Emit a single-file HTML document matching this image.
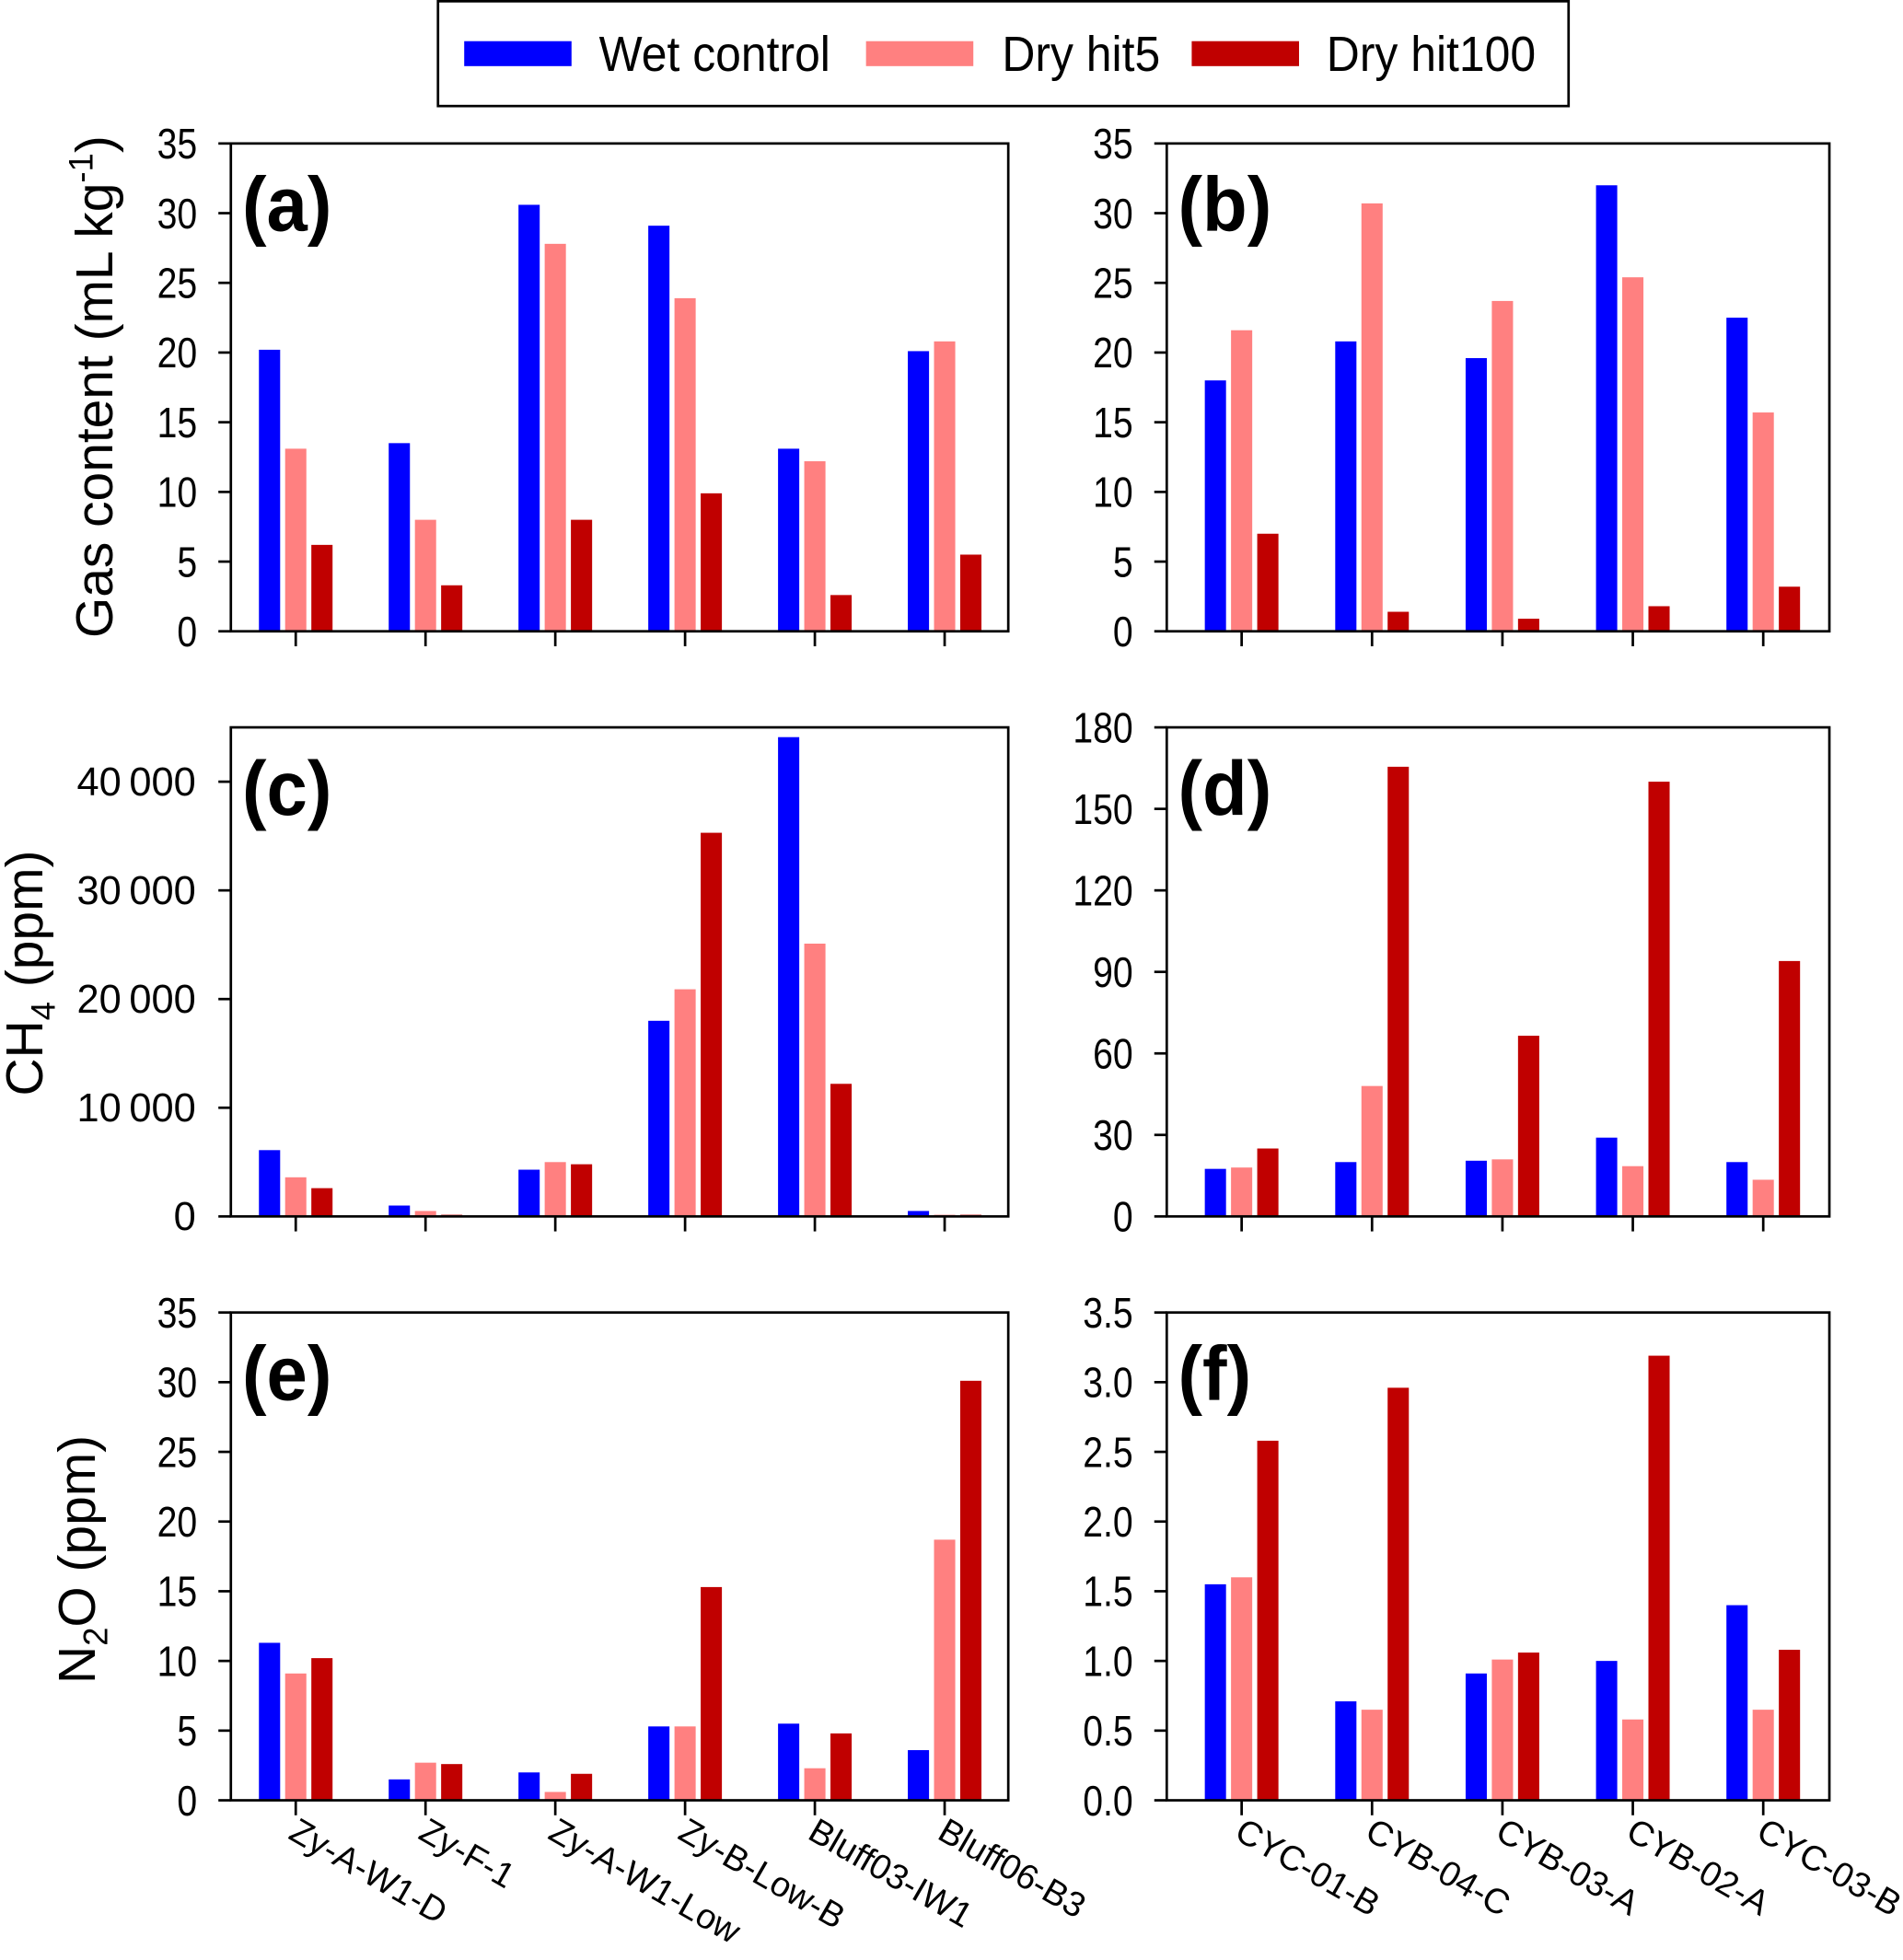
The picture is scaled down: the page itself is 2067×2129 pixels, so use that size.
<!DOCTYPE html>
<html><head><meta charset="utf-8">
<style>
html,body{margin:0;padding:0;background:#fff;}
svg{display:block;}
text{fill:#000;}
</style></head>
<body>
<svg id="chart" width="2067" height="2129" viewBox="0 0 1525 1571" preserveAspectRatio="none" xmlns="http://www.w3.org/2000/svg">
  <g>
    <rect x="351" y="1" width="906" height="84" fill="#fff" stroke="#000" stroke-width="2"/>
    <rect x="372" y="33" width="86" height="20" fill="#0000ff"/>
    <text transform="translate(480,57) scale(0.92,1)" font-family="Liberation Sans, sans-serif" font-size="40">Wet control</text>
    <rect x="694" y="33" width="86" height="20" fill="#ff8080"/>
    <text transform="translate(803,57) scale(0.92,1)" font-family="Liberation Sans, sans-serif" font-size="40">Dry hit5</text>
    <rect x="955" y="33" width="86" height="20" fill="#c00000"/>
    <text transform="translate(1063,57) scale(0.92,1)" font-family="Liberation Sans, sans-serif" font-size="40">Dry hit100</text>
  </g>
  <text transform="translate(90,310) rotate(-90)" text-anchor="middle" font-family="Liberation Sans, sans-serif" font-size="42">Gas content (mL kg<tspan dy="-16" font-size="27">-1</tspan><tspan dy="16">)</tspan></text>
  <text transform="translate(34,780) rotate(-90)" text-anchor="middle" font-family="Liberation Sans, sans-serif" font-size="42">CH<tspan dy="10" font-size="27">4</tspan><tspan dy="-10"> (ppm)</tspan></text>
  <text transform="translate(76,1250) rotate(-90)" text-anchor="middle" font-family="Liberation Sans, sans-serif" font-size="42">N<tspan dy="10" font-size="27">2</tspan><tspan dy="-10">O (ppm)</tspan></text>
</svg>
<script>
// Categories
const leftCats = ["Zy-A-W1-D","Zy-F-1","Zy-A-W1-Low","Zy-B-Low-B","Bluff03-IW1","Bluff06-B3"];
const rightCats = ["CYC-01-B","CYB-04-C","CYB-03-A","CYB-02-A","CYC-03-B"];
// Panel (a) gas content
const aWet = [20.2,13.5,30.6,29.1,13.1,20.1];
const aHit5 = [13.1,8.0,27.8,23.9,12.2,20.8];
const aHit100 = [6.2,3.3,8.0,9.9,2.6,5.5];
// Panel (b) gas content
const bWet = [18.0,20.8,19.6,32.0,22.5];
const bHit5 = [21.6,30.7,23.7,25.4,15.7];
const bHit100 = [7.0,1.4,0.9,1.8,3.2];
// Panel (c) CH4
const cWet = [6100,1000,4300,18000,44100,500];
const cHit5 = [3600,500,5000,20900,25100,150];
const cHit100 = [2600,150,4800,35300,12200,150];
// Panel (d) CH4
const dWet = [17.5,20,20.5,29,20];
const dHit5 = [18,48,21,18.5,13.5];
const dHit100 = [25,165.5,66.5,160,94];
// Panel (e) N2O
const eWet = [11.3,1.5,2.0,5.3,5.5,3.6];
const eHit5 = [9.1,2.7,0.6,5.3,2.3,18.7];
const eHit100 = [10.2,2.6,1.9,15.3,4.8,30.1];
// Panel (f) N2O
const fWet = [1.55,0.71,0.91,1.0,1.4];
const fHit5 = [1.6,0.65,1.01,0.58,0.65];
const fHit100 = [2.58,2.96,1.06,3.19,1.08];
// Tick labels
const ticksGas = ["0","5","10","15","20","25","30","35"];
const ticksGasVals = [0,5,10,15,20,25,30,35];
const ticksCH4L = ["0","10\u2009000","20\u2009000","30\u2009000","40\u2009000"];
const ticksCH4LVals = [0,10000,20000,30000,40000];
const ticksCH4R = ["0","30","60","90","120","150","180"];
const ticksCH4RVals = [0,30,60,90,120,150,180];
const ticksN2OL = ["0","5","10","15","20","25","30","35"];
const ticksN2OLVals = [0,5,10,15,20,25,30,35];
const ticksN2OR = ["0.0","0.5","1.0","1.5","2.0","2.5","3.0","3.5"];
const ticksN2ORVals = [0,0.5,1,1.5,2,2.5,3,3.5];

const NS = "http://www.w3.org/2000/svg";
const svg = document.getElementById('chart');
const colors = ["#0000ff","#ff8080","#c00000"];
const seriesNames = ["wet-control","dry-hit5","dry-hit100"];
function mk(tag, attrs, parent){
  const e = document.createElementNS(NS, tag);
  for (const k in attrs) e.setAttribute(k, attrs[k]);
  (parent||svg).appendChild(e);
  return e;
}
function panel(id, x0, x1, y0, y1, ymax, cats, series, tVals, tLabels, narrow, firstTick, step, showX){
  const g = mk('g', {});
  
  
  const ys = v => y1 - v / ymax * (y1 - y0);
  const xs = i => firstTick + i * step;
  series.forEach((arr, s) => {
    arr.forEach((v, i) => {
      const cx = xs(i) + (s - 1) * 21;
      const r = mk('rect', {x: cx - 8.5, y: ys(v), width: 17, height: Math.max(0, y1 - ys(v)), fill: colors[s]}, g);
      
      
    });
  });
  const f = mk('rect', {x: x0, y: y0, width: x1 - x0, height: y1 - y0, fill: 'none', stroke: '#000', 'stroke-width': 2}, g);
  
  
  tVals.forEach((v, k) => {
    mk('line', {x1: x0 - 10, x2: x0, y1: ys(v), y2: ys(v), stroke: '#000', 'stroke-width': 2}, g);
    const tr = narrow
      ? 'translate(' + (x0 - 27) + ',' + (ys(v) + 12) + ') scale(0.85,1)'
      : 'translate(' + (x0 - 28) + ',' + (ys(v) + 11) + ')';
    const t = mk('text', {transform: tr, 'text-anchor': 'end', 'font-family': 'Liberation Sans, sans-serif', 'font-size': narrow ? 34 : 32}, g);
    t.textContent = tLabels[k];
    
    
  });
  cats.forEach((c, i) => {
    mk('line', {x1: xs(i), x2: xs(i), y1: y1, y2: y1 + 12, stroke: '#000', 'stroke-width': 2}, g);
    if (showX) {
      const t = mk('text', {transform: 'translate(' + (xs(i) - 7) + ',' + (y1 + 30) + ') rotate(30)', 'font-family': 'Liberation Sans, sans-serif', 'font-size': 28}, g);
      t.textContent = c;
      
      
    }
  });
  const lab = mk('text', {transform: 'translate(' + (x0 + 9) + ',' + (y0 + 70) + ') scale(1.05,1.1)', 'font-family': 'Liberation Sans, sans-serif', 'font-weight': 'bold', 'font-size': 56}, g);
  lab.textContent = '(' + id + ')';
  
  
}
panel('a', 185, 808, 115, 506, 35, leftCats, [aWet,aHit5,aHit100], ticksGasVals, ticksGas, true, 237, 104, false);
panel('b', 935, 1466, 115, 506, 35, rightCats, [bWet,bHit5,bHit100], ticksGasVals, ticksGas, true, 995, 104.5, false);
panel('c', 185, 808, 583, 975, 45000, leftCats, [cWet,cHit5,cHit100], ticksCH4LVals, ticksCH4L, false, 237, 104, false);
panel('d', 935, 1466, 583, 975, 180, rightCats, [dWet,dHit5,dHit100], ticksCH4RVals, ticksCH4R, true, 995, 104.5, false);
panel('e', 185, 808, 1052, 1443, 35, leftCats, [eWet,eHit5,eHit100], ticksN2OLVals, ticksN2OL, true, 237, 104, true);
panel('f', 935, 1466, 1052, 1443, 3.5, rightCats, [fWet,fHit5,fHit100], ticksN2ORVals, ticksN2OR, true, 995, 104.5, true);
</script>
</body></html>
